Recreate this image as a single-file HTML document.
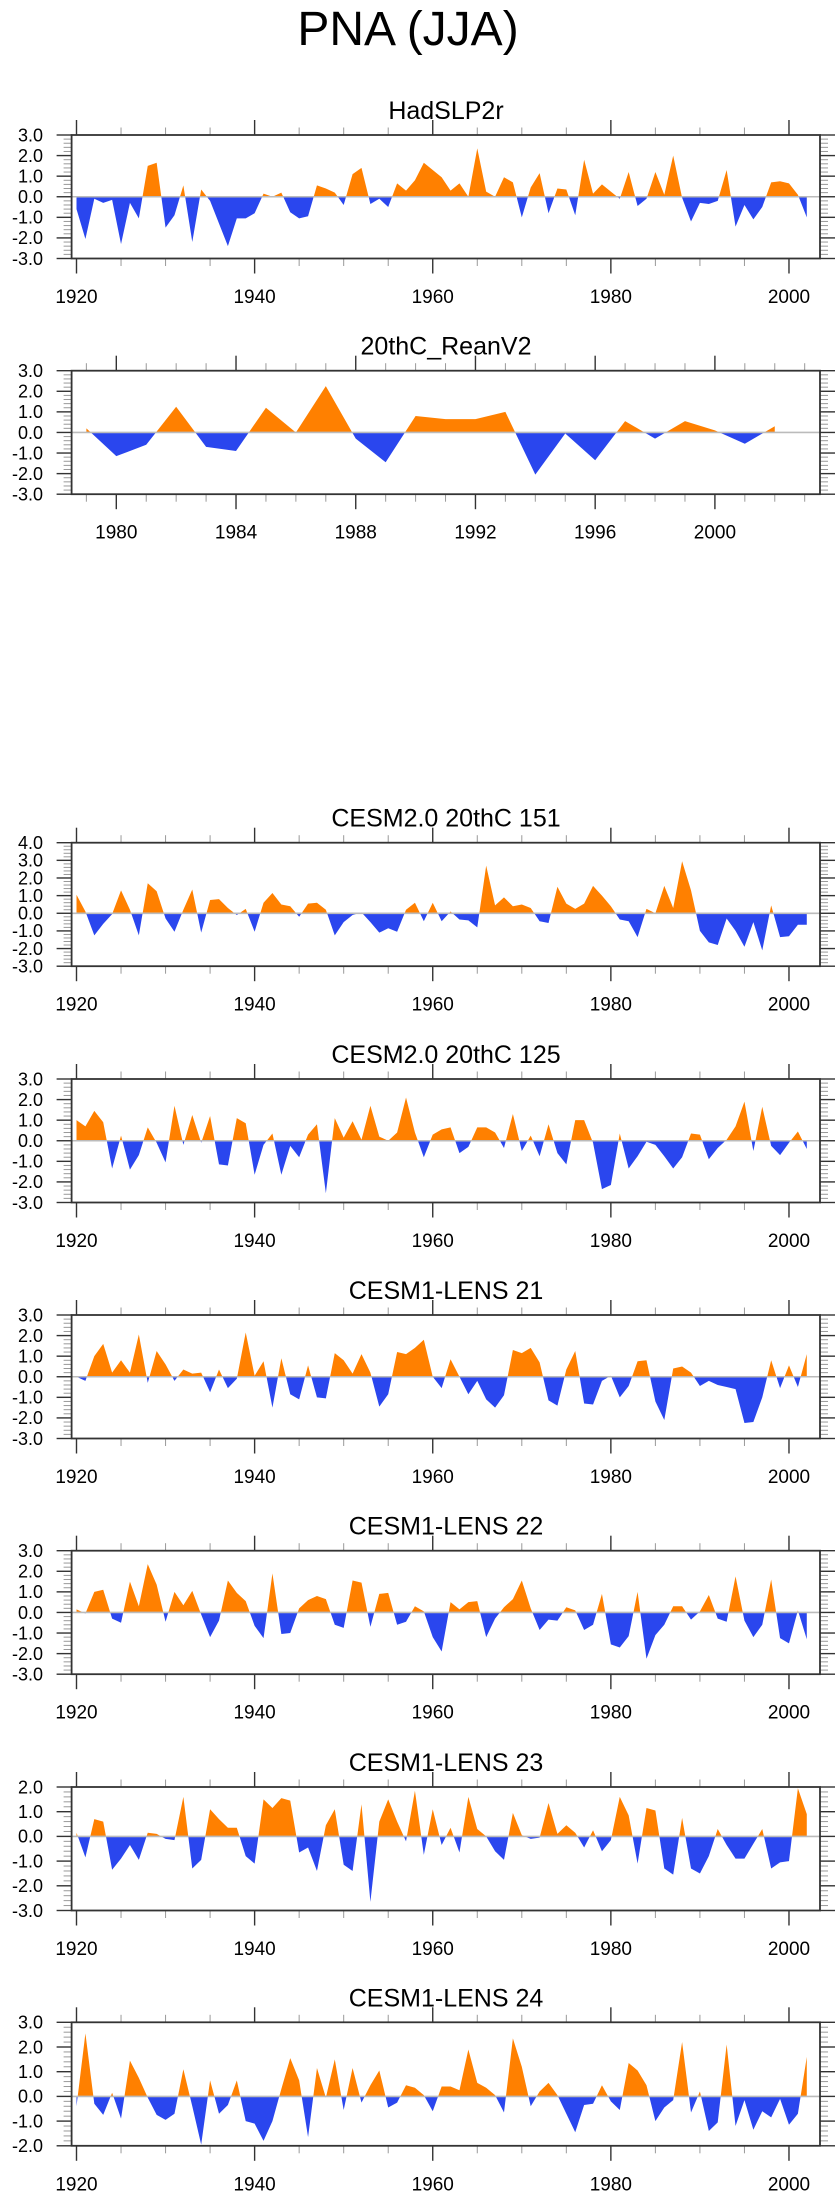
<!DOCTYPE html>
<html><head><meta charset="utf-8"><style>
html,body{margin:0;padding:0;background:#fff;}
svg{display:block;font-family:"Liberation Sans",Arial,sans-serif;}
</style></head><body>
<svg id="chart" width="840" height="2200" viewBox="0 0 840 2200" xmlns="http://www.w3.org/2000/svg">
<text x="408" y="45" font-size="48" text-anchor="middle" fill="#000">PNA (JJA)</text>
</svg>
<script>
const yearsLong = [];
for (let y = 1920; y <= 2002; y++) yearsLong.push(y);
const yearsShort = [];
for (let y = 1979; y <= 2002; y++) yearsShort.push(y);

const hadslp2r = [-0.6,-2.05,-0.1,-0.3,-0.15,-2.3,-0.3,-1.05,1.5,1.65,-1.5,-0.9,0.55,-2.2,0.35,-0.2,-1.3,-2.4,-1.05,-1.05,-0.8,0.15,0.0,0.2,-0.75,-1.05,-0.95,0.55,0.4,0.2,-0.4,1.1,1.4,-0.35,-0.1,-0.5,0.65,0.3,0.8,1.65,1.3,0.95,0.3,0.65,0.0,2.35,0.25,0.0,0.95,0.7,-1.0,0.45,1.15,-0.8,0.4,0.35,-0.9,1.8,0.15,0.6,0.25,-0.1,1.2,-0.45,-0.1,1.2,0.1,2.0,-0.05,-1.2,-0.3,-0.35,-0.2,1.3,-1.45,-0.4,-1.1,-0.5,0.7,0.75,0.65,0.1,-1.0];
const reanV2 = [0.2,-1.15,-0.6,1.25,-0.7,-0.9,1.2,0.0,2.25,-0.3,-1.45,0.8,0.65,0.65,1.0,-2.05,-0.05,-1.35,0.55,-0.3,0.55,0.1,-0.55,0.3];
const cesm2_151 = [1.05,0.1,-1.25,-0.6,-0.05,1.3,0.2,-1.25,1.7,1.25,-0.3,-1.05,0.2,1.35,-1.1,0.75,0.8,0.3,-0.1,0.25,-1.05,0.6,1.15,0.5,0.4,-0.2,0.55,0.6,0.2,-1.25,-0.5,-0.1,0.05,-0.5,-1.1,-0.85,-1.05,0.2,0.6,-0.45,0.6,-0.45,0.1,-0.35,-0.4,-0.8,2.7,0.45,0.9,0.4,0.5,0.3,-0.45,-0.55,1.5,0.55,0.25,0.55,1.55,1.0,0.4,-0.35,-0.45,-1.35,0.25,0.0,1.55,0.3,2.95,1.3,-1.0,-1.65,-1.8,-0.3,-1.0,-1.9,-0.5,-2.1,0.45,-1.35,-1.3,-0.65,-0.65];
const cesm2_125 = [1.0,0.7,1.45,0.9,-1.35,0.25,-1.4,-0.7,0.65,-0.1,-1.05,1.7,-0.2,1.25,-0.1,1.2,-1.15,-1.2,1.1,0.85,-1.65,-0.2,0.35,-1.65,-0.25,-0.8,0.3,0.8,-2.55,1.1,0.15,0.95,0.05,1.7,0.2,0.0,0.4,2.1,0.4,-0.8,0.3,0.55,0.65,-0.6,-0.3,0.65,0.65,0.4,-0.35,1.3,-0.5,0.25,-0.75,0.8,-0.6,-1.15,1.0,1.0,-0.1,-2.35,-2.15,0.35,-1.35,-0.75,-0.05,-0.2,-0.75,-1.35,-0.8,0.35,0.3,-0.9,-0.35,0.05,0.7,1.9,-0.5,1.65,-0.25,-0.7,-0.1,0.45,-0.4];
const lens21 = [0.0,-0.2,1.0,1.6,0.2,0.8,0.2,2.05,-0.3,1.25,0.6,-0.2,0.35,0.15,0.2,-0.75,0.35,-0.55,-0.1,2.15,0.05,0.75,-1.5,0.9,-0.85,-1.1,0.55,-1.0,-1.05,1.15,0.8,0.15,1.1,0.2,-1.45,-0.85,1.2,1.1,1.4,1.8,0.0,-0.55,0.85,0.0,-0.85,-0.2,-1.1,-1.5,-0.9,1.3,1.15,1.4,0.7,-1.15,-1.4,0.35,1.25,-1.3,-1.35,-0.2,0.05,-1.0,-0.45,0.75,0.8,-1.2,-2.1,0.4,0.5,0.2,-0.45,-0.2,-0.4,-0.5,-0.6,-2.25,-2.2,-1.0,0.8,-0.55,0.55,-0.5,1.1];
const lens22 = [0.15,-0.05,1.0,1.1,-0.3,-0.5,1.5,0.3,2.35,1.35,-0.45,1.0,0.35,1.05,-0.1,-1.2,-0.4,1.55,0.95,0.55,-0.65,-1.25,1.9,-1.05,-1.0,0.2,0.6,0.8,0.65,-0.6,-0.75,1.55,1.45,-0.7,0.9,0.95,-0.6,-0.45,0.3,0.05,-1.2,-1.9,0.5,0.15,0.5,0.55,-1.2,-0.3,0.25,0.65,1.55,0.2,-0.85,-0.35,-0.4,0.25,0.1,-0.85,-0.6,0.9,-1.55,-1.7,-1.15,1.0,-2.25,-1.1,-0.6,0.3,0.3,-0.35,0.05,0.85,-0.3,-0.45,1.75,-0.4,-1.2,-0.6,1.6,-1.25,-1.5,0.1,-1.3];
const lens23 = [0.15,-0.85,0.7,0.6,-1.35,-0.9,-0.35,-0.95,0.15,0.1,-0.1,-0.15,1.6,-1.3,-0.95,1.1,0.7,0.35,0.35,-0.8,-1.1,1.5,1.15,1.55,1.45,-0.65,-0.45,-1.4,0.45,1.1,-1.15,-1.4,1.3,-2.65,0.6,1.5,0.6,-0.2,1.85,-0.75,1.1,-0.35,0.35,-0.65,1.6,0.3,0.0,-0.6,-0.95,0.95,0.05,-0.1,-0.05,1.35,0.1,0.45,0.15,-0.45,0.25,-0.6,-0.15,1.6,0.85,-1.1,1.15,1.05,-1.3,-1.55,0.75,-1.3,-1.5,-0.8,0.3,-0.35,-0.9,-0.9,-0.3,0.3,-1.3,-1.05,-1.0,1.95,0.9];
const lens24 = [-0.4,2.55,-0.3,-0.75,0.15,-0.9,1.45,0.75,-0.05,-0.75,-0.95,-0.7,1.1,-0.4,-1.95,0.65,-0.7,-0.35,0.65,-1.0,-1.1,-1.8,-1.0,0.3,1.55,0.65,-1.65,1.15,-0.05,1.5,-0.55,1.15,-0.25,0.45,1.05,-0.45,-0.25,0.45,0.35,0.05,-0.6,0.4,0.4,0.25,1.9,0.55,0.35,0.05,-0.65,2.35,1.2,-0.4,0.2,0.55,0.05,-0.7,-1.45,-0.35,-0.3,0.45,-0.2,-0.55,1.35,1.05,0.45,-1.0,-0.45,-0.15,2.2,-0.65,0.2,-1.4,-1.05,2.1,-1.2,-0.15,-1.35,-0.6,-0.85,-0.1,-1.15,-0.7,1.6];

const longTicksMajor = [1920,1940,1960,1980,2000];
const shortTicksMajor = [1980,1984,1988,1992,1996,2000];

const panels = [
  {name:'hadslp2r', title:'HadSLP2r', top:135, ymin:-3, ymax:3, x:yearsLong, v:hadslp2r, kind:'long'},
  {name:'20thc-reanv2', title:'20thC_ReanV2', top:370.7, ymin:-3, ymax:3, x:yearsShort, v:reanV2, kind:'short'},
  {name:'cesm2-151', title:'CESM2.0 20thC 151', top:842.7, ymin:-3, ymax:4, x:yearsLong, v:cesm2_151, kind:'long'},
  {name:'cesm2-125', title:'CESM2.0 20thC 125', top:1079, ymin:-3, ymax:3, x:yearsLong, v:cesm2_125, kind:'long'},
  {name:'cesm1-lens-21', title:'CESM1-LENS 21', top:1315, ymin:-3, ymax:3, x:yearsLong, v:lens21, kind:'long'},
  {name:'cesm1-lens-22', title:'CESM1-LENS 22', top:1550.7, ymin:-3, ymax:3, x:yearsLong, v:lens22, kind:'long'},
  {name:'cesm1-lens-23', title:'CESM1-LENS 23', top:1787, ymin:-3, ymax:2, x:yearsLong, v:lens23, kind:'long'},
  {name:'cesm1-lens-24', title:'CESM1-LENS 24', top:2022.3, ymin:-2, ymax:3, x:yearsLong, v:lens24, kind:'long'}
];

const NS='http://www.w3.org/2000/svg';
const svg=document.getElementById('chart');
function mk(tag, attrs, parent){const e=document.createElementNS(NS,tag);for(const k in attrs)e.setAttribute(k,attrs[k]);(parent||svg).appendChild(e);return e;}
const L=71.6, R=820, H=123.5;

panels.forEach((p,pi)=>{
  const g=mk('g',{});
  
  
  const top=p.top, bot=top+H;
  let xs;
  if(p.kind==='long'){ xs=yr=>76.5+(yr-1920)*8.906; }
  else { xs=yr=>116.3+(yr-1980)*29.93; }
  const ys=v=>bot-(v-p.ymin)/(p.ymax-p.ymin)*H;
  const y0=ys(0);

  const t=mk('text',{x:446,y:top-16,'font-size':25,'text-anchor':'middle',fill:'#000'},g);
  t.textContent=p.title;
  
  

  // area
  const cidA='ca'+pi, cidB='cb'+pi;
  const defs=mk('defs',{},g);
  const c1=mk('clipPath',{id:cidA},defs); mk('rect',{x:L,y:top,width:R-L,height:y0-top},c1);
  const c2=mk('clipPath',{id:cidB},defs); mk('rect',{x:L,y:y0,width:R-L,height:bot-y0},c2);
  let d='M'+xs(p.x[0]).toFixed(2)+','+y0.toFixed(2);
  p.x.forEach((yr,i)=>{d+=' L'+xs(yr).toFixed(2)+','+ys(p.v[i]).toFixed(2);});
  d+=' L'+xs(p.x[p.x.length-1]).toFixed(2)+','+y0.toFixed(2)+' Z';
  const pos=mk('path',{d:d,fill:'#ff8000','clip-path':'url(#'+cidA+')'},g);
  
  
  const neg=mk('path',{d:d,fill:'#2a46ee','clip-path':'url(#'+cidB+')'},g);
  
  

  const zl=mk('line',{x1:L,x2:R,y1:y0,y2:y0,stroke:'#bbb','stroke-width':1.6},g);
  
  

  // y ticks
  const steps=Math.round((p.ymax-p.ymin)/0.2);
  for(let k=0;k<=steps;k++){
    const v=p.ymin+k*0.2; const yy=ys(v);
    const major=Math.abs(v-Math.round(v))<1e-6;
    const len=major?15:8, col=major?'#333':'#999';
    mk('line',{x1:L-len,x2:L,y1:yy,y2:yy,stroke:col,'stroke-width':major?1.4:1},g);
    mk('line',{x1:R,x2:R+len,y1:yy,y2:yy,stroke:col,'stroke-width':major?1.4:1},g);
    if(major){
      const tl=mk('text',{x:43,y:yy+6.3,'font-size':18,'text-anchor':'end',fill:'#000'},g);
      tl.textContent=Math.round(v).toFixed(1);
      
      
    }
  }
  // x ticks
  let minors, majors;
  if(p.kind==='long'){ majors=longTicksMajor; minors=[]; for(let y=1920;y<=2000;y+=5) minors.push(y); }
  else { majors=shortTicksMajor; minors=[]; for(let y=1979;y<=2003;y++) minors.push(y); }
  minors.forEach(yr=>{
    const xx=xs(yr); if(xx<L||xx>R) return;
    const major=majors.indexOf(yr)>=0;
    const len=major?15:7.5, col=major?'#333':'#999';
    mk('line',{x1:xx,x2:xx,y1:top-len,y2:top,stroke:col,'stroke-width':major?1.4:1},g);
    mk('line',{x1:xx,x2:xx,y1:bot,y2:bot+len,stroke:col,'stroke-width':major?1.4:1},g);
  });
  majors.forEach(yr=>{
    const tl=mk('text',{x:xs(yr),y:bot+44.5,'font-size':19,'text-anchor':'middle',fill:'#000'},g);
    tl.textContent=String(yr);
    
    
  });
  const box=mk('rect',{x:L,y:top,width:R-L,height:H,fill:'none',stroke:'#333','stroke-width':1.8},g);
  
  
});
</script>
</body></html>
